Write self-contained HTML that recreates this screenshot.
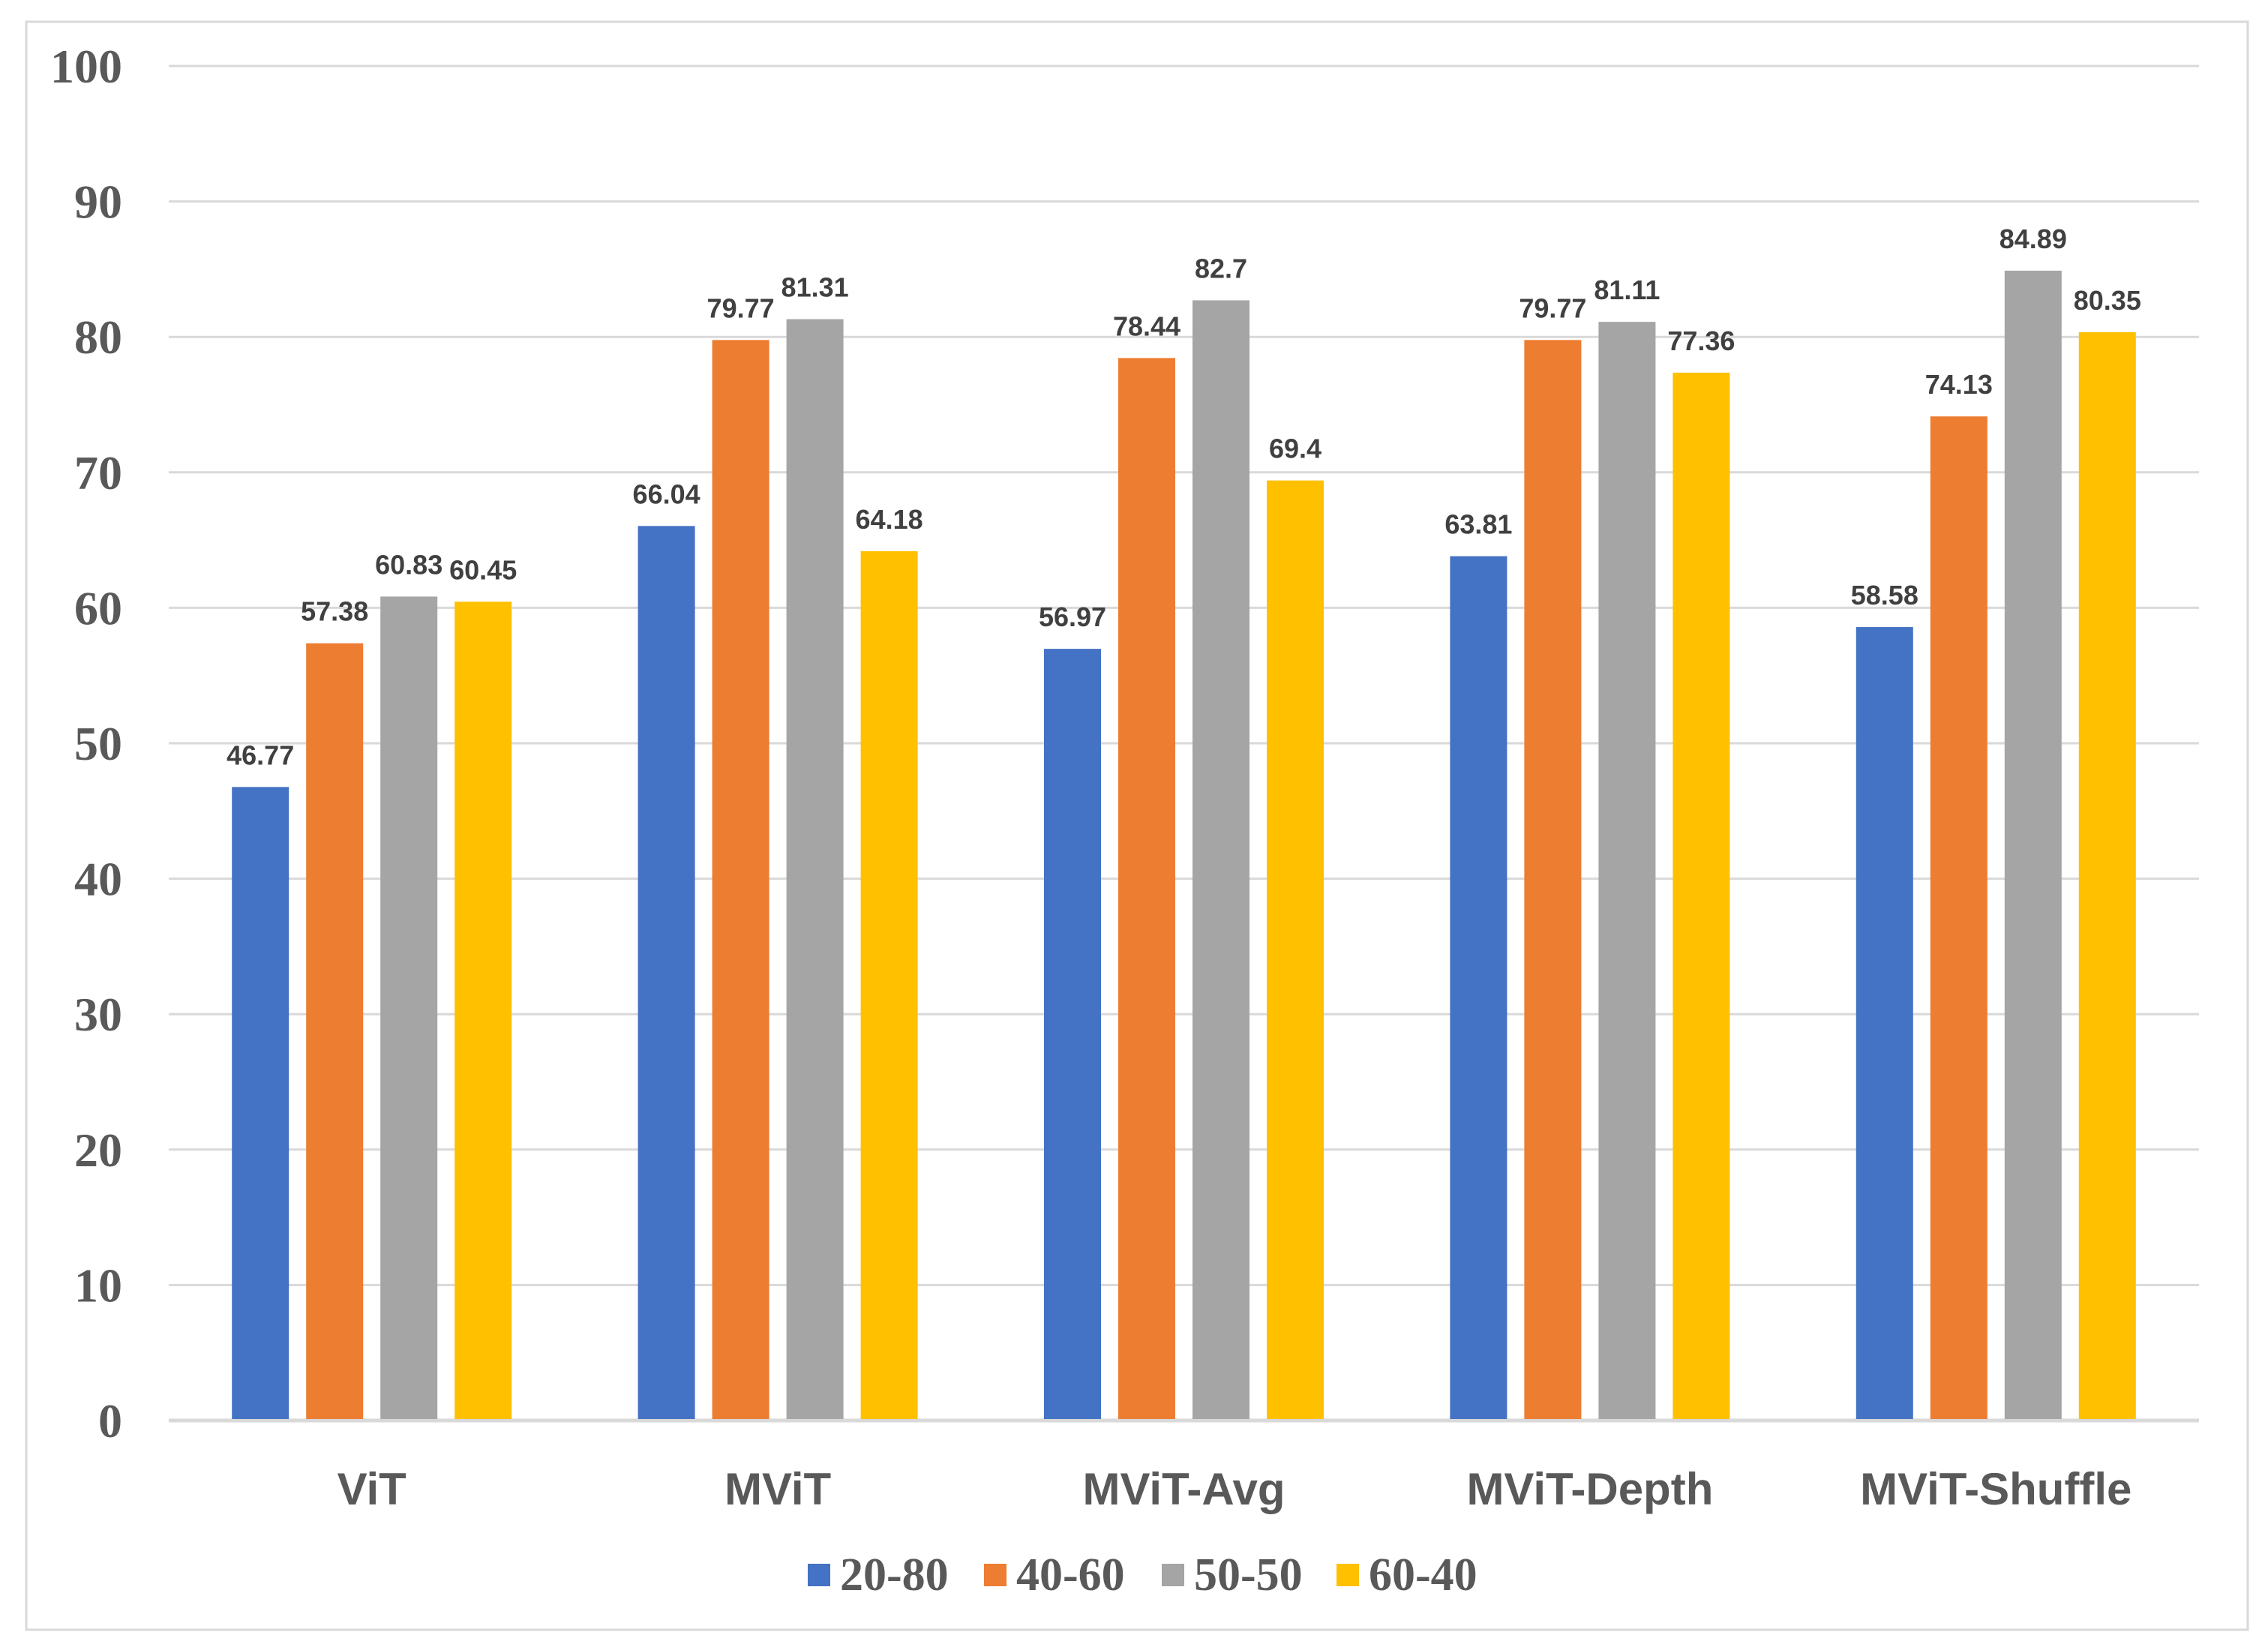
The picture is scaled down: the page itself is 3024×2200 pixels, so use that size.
<!DOCTYPE html>
<html><head><meta charset="utf-8"><style>
html,body{margin:0;padding:0;background:#fff;width:3024px;height:2200px;overflow:hidden}
svg{display:block}
</style></head><body>
<svg id="chart" width="3024" height="2200" viewBox="0 0 3024 2200" xmlns="http://www.w3.org/2000/svg">
<rect x="35" y="29" width="2962" height="2144" fill="#fff" stroke="#d9d9d9" stroke-width="3"/>
<g id="grid"></g><g id="bars"></g><g id="labels"></g><g id="legend"></g>
</svg>
<script>
const categories = ["ViT","MViT","MViT-Avg","MViT-Depth","MViT-Shuffle"];
const seriesNames = ["20-80","40-60","50-50","60-40"];
const s2080 = [46.77,66.04,56.97,63.81,58.58];
const s4060 = [57.38,79.77,78.44,79.77,74.13];
const s5050 = [60.83,81.31,82.7,81.11,84.89];
const s6040 = [60.45,64.18,69.4,77.36,80.35];
const yTicks = [0,10,20,30,40,50,60,70,80,90,100];
const series = [s2080,s4060,s5050,s6040];
const colors = ["#4472C4","#ED7D31","#A5A5A5","#FFC000"];
const NS="http://www.w3.org/2000/svg";
const x0=225,x1=2932,yZero=1894,yTop=88,yMax=100;
function y(v){return yZero-(v/yMax)*(yZero-yTop);}
const catW=(x1-x0)/categories.length;
function xc(i){return x0+catW*(i+0.5);}
const barW=76,barStep=99;
function mk(tag,attrs,parent){const e=document.createElementNS(NS,tag);for(const k in attrs)e.setAttribute(k,attrs[k]);parent.appendChild(e);return e;}
const grid=document.getElementById('grid'),bars=document.getElementById('bars'),labels=document.getElementById('labels'),legend=document.getElementById('legend');
yTicks.forEach(t=>{
  const l=mk('line',{x1:x0,x2:x1,y1:y(t),y2:y(t),stroke:'#d9d9d9','stroke-width':t===0?5:3},grid);
  
  
  const tx=mk('text',{x:163,y:y(t)+22,'text-anchor':'end','font-family':'Liberation Serif, serif','font-weight':'bold','font-size':64,fill:'#595959'},grid);
  tx.textContent=t;
  
  
});
categories.forEach((c,i)=>{
  const start=xc(i)-(barStep*3+barW)/2;
  series.forEach((s,j)=>{
    const v=s[i],bx=start+j*barStep;
    const r=mk('rect',{x:bx,y:y(v),width:barW,height:yZero-2-y(v),fill:colors[j]},bars);
    
    
    const t=mk('text',{x:bx+barW/2,y:y(v)-30,'text-anchor':'middle','font-family':'Liberation Sans, sans-serif','font-weight':'bold','font-size':36,fill:'#404040'},labels);
    t.textContent=v;
    
    
  });
  const ct=mk('text',{x:xc(i),y:2006,'text-anchor':'middle','font-family':'Liberation Sans, sans-serif','font-weight':'bold','font-size':60,fill:'#595959'},labels);
  ct.textContent=c;
  
  
});
const legX=[1077,1312,1549,1782];
seriesNames.forEach((n,j)=>{
  const g=mk('g',{},legend);
  
  
  mk('rect',{x:legX[j],y:2085,width:30,height:30,fill:colors[j]},g);
  const t=mk('text',{x:legX[j]+43,y:2120,'font-family':'Liberation Serif, serif','font-weight':'bold','font-size':62,fill:'#595959'},g);
  t.textContent=n;
});
</script>
</body></html>
